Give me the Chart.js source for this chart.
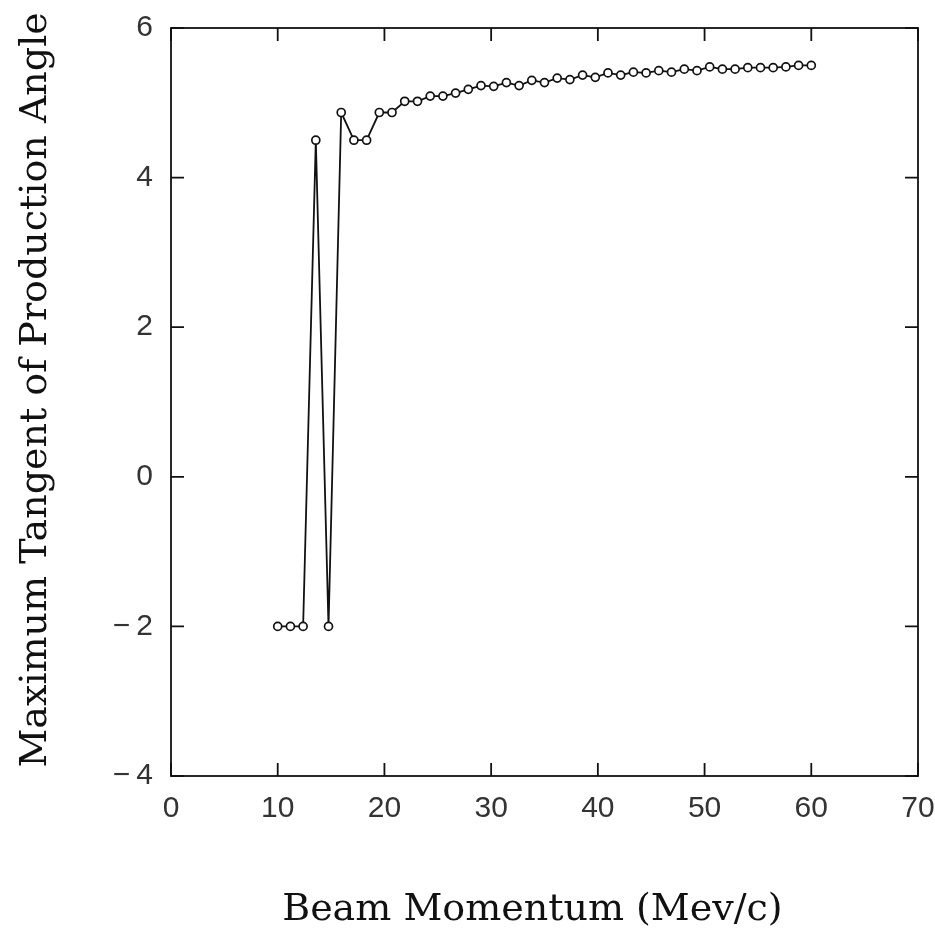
<!DOCTYPE html>
<html>
<head>
<meta charset="utf-8">
<script src="https://cdn.jsdelivr.net/npm/chart.js"></script>
<style>
  html, body { margin: 0; padding: 0; background: #fff; }
  canvas { display: block; }
</style>
</head>
<body>
<canvas id="myChart" width="935" height="933"></canvas>
<script>
// beam momentum (Mev/c)
const momentum = [10.0, 11.19, 12.38, 13.57, 14.76, 15.95, 17.14, 18.33, 19.52, 20.71,
  21.90, 23.10, 24.29, 25.48, 26.67, 27.86, 29.05, 30.24, 31.43, 32.62,
  33.81, 35.00, 36.19, 37.38, 38.57, 39.76, 40.95, 42.14, 43.33, 44.52,
  45.71, 46.90, 48.10, 49.29, 50.48, 51.67, 52.86, 54.05, 55.24, 56.43,
  57.62, 58.81, 60.00]

// maximum tangent of production angle
const maxTangent = [-2, -2, -2, 4.5, -2, 4.87, 4.5, 4.5, 4.87, 4.87,
  5.02, 5.02, 5.09, 5.09, 5.13, 5.18, 5.23, 5.22, 5.27, 5.23,
  5.30, 5.27, 5.33, 5.31, 5.37, 5.34, 5.40, 5.37, 5.41, 5.40,
  5.43, 5.41, 5.45, 5.43, 5.48, 5.45, 5.45, 5.47, 5.47, 5.47,
  5.48, 5.50, 5.50]

const xTicks = [0, 10, 20, 30, 40, 50, 60, 70]
const yTicks = [-4, -2, 0, 2, 4, 6]

const xTitle = 'Beam Momentum (Mev/c)'
const yTitle = 'Maximum Tangent of Production Angle'

const points = momentum.map((x, i) => ({x: x, y: maxTangent[i]}))

// frame + inward ticks on all four sides
const frameTicks = {
  id: 'frameTicks',
  afterDatasetsDraw(chart) {
    const {ctx, chartArea: a, scales} = chart
    const len = 13
    ctx.save()
    ctx.strokeStyle = '#111'
    ctx.lineWidth = 1.8
    ctx.strokeRect(a.left, a.top, a.right - a.left, a.bottom - a.top)
    ctx.beginPath()
    xTicks.forEach(v => {
      const px = scales.x.getPixelForValue(v)
      ctx.moveTo(px, a.bottom); ctx.lineTo(px, a.bottom - len)
      ctx.moveTo(px, a.top); ctx.lineTo(px, a.top + len)
    })
    yTicks.forEach(v => {
      const py = scales.y.getPixelForValue(v)
      ctx.moveTo(a.left, py); ctx.lineTo(a.left + len, py)
      ctx.moveTo(a.right, py); ctx.lineTo(a.right - len, py)
    })
    ctx.stroke()
    ctx.restore()
  }
}

const tickFont = {family: "'Liberation Sans', Arial, sans-serif", size: 30}
const titleFont = {family: "'DejaVu Serif', serif", size: 38}

new Chart(document.getElementById('myChart'), {
  type: 'line',
  data: {
    datasets: [{
      data: points,
      borderColor: '#111',
      borderWidth: 1.8,
      pointRadius: 4,
      pointBorderWidth: 1.7,
      pointBackgroundColor: '#fff',
      pointBorderColor: '#111',
      tension: 0,
      fill: false
    }]
  },
  options: {
    responsive: false,
    animation: false,
    devicePixelRatio: 1,
    layout: {padding: {top: 28, right: 17, left: 0, bottom: 0}},
    plugins: {legend: {display: false}, tooltip: {enabled: false}},
    scales: {
      x: {
        type: 'linear',
        min: 0, max: 70,
        afterFit: s => { s.height = 157; s.paddingLeft = 0; s.paddingRight = 0 },
        afterBuildTicks: s => { s.ticks = xTicks.map(v => ({value: v})) },
        grid: {display: false, drawTicks: false},
        border: {display: false},
        ticks: {color: '#333', font: tickFont, padding: 15, maxRotation: 0},
        title: {display: true, text: xTitle + '\u00a0\u00a0', color: '#111', font: titleFont, padding: {top: 0, bottom: 0}}
      },
      y: {
        min: -4, max: 6,
        afterFit: s => { s.width = 171; s.paddingTop = 0; s.paddingBottom = 0 },
        afterBuildTicks: s => { s.ticks = yTicks.map(v => ({value: v})) },
        grid: {display: false, drawTicks: false},
        border: {display: false},
        ticks: {
          color: '#333', font: tickFont, padding: 18,
          callback: v => v < 0 ? '\u2212\u2009' + Math.abs(v) : String(v)
        },
        title: {display: true, text: '\u00a0\u00a0' + yTitle, color: '#111', font: titleFont, padding: {top: 13, bottom: 0}}
      }
    }
  },
  plugins: [frameTicks]
})
</script>
</body>
</html>
